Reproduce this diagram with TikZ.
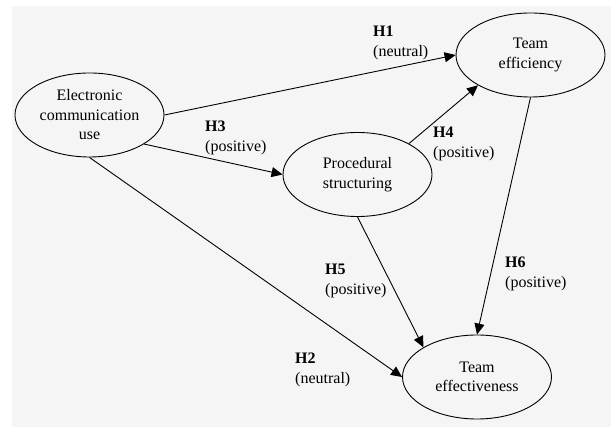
\documentclass[tikz,border=0pt]{standalone}
\usepackage{fontspec}
\setmainfont{Liberation Serif}
\usetikzlibrary{shapes.geometric,arrows.meta}
\definecolor{bggray}{RGB}{245,245,245}
\begin{document}
\begin{tikzpicture}[x=1pt,y=-1pt,
  concept/.style={draw=black, line width=0.9pt, ellipse, minimum width=149pt, minimum height=84pt, inner sep=0pt, align=center, font=\rmfamily\fontsize{16}{19.5}\selectfont},
  hyp/.style={anchor=north west, inner sep=0pt, align=left, font=\rmfamily\fontsize{16}{20}\selectfont},
  link/.style={draw=black, line width=0.9pt, -{Triangle[length=11pt,width=10pt]}}]
\useasboundingbox (0,0) rectangle (611,427);
\fill[bggray] (12,6) rectangle (611,427);
\node[concept] (ecu) at (89.5,115) {Electronic\\communication\\use};
\node[concept] (eff) at (530.5,55) {Team\\efficiency};
\node[concept] (ps) at (357.5,174.5) {Procedural\\structuring};
\node[concept] (tev) at (477,377) {Team\\effectiveness};
\draw[link] (ecu.east) -- (eff.west);
\draw[link] (ecu.-28) -- (ps.west);
\draw[link] (ecu.south) -- (tev.west);
\draw[link] (ps.31) -- (eff.210);
\draw[link] (ps.south) -- (tev.151);
\draw[link] (eff.south) -- (tev.north);
\node[hyp] (h1) at (373,26) {\textbf{H1}\\(neutral)};
\node[hyp] (h3) at (205,121) {\textbf{H3}\\(positive)};
\node[hyp] (h4) at (433,127) {\textbf{H4}\\(positive)};
\node[hyp] (h5) at (325,264) {\textbf{H5}\\(positive)};
\node[hyp] (h6) at (505,257) {\textbf{H6}\\(positive)};
\node[hyp] (h2) at (295,353) {\textbf{H2}\\(neutral)};
\end{tikzpicture}
\end{document}
